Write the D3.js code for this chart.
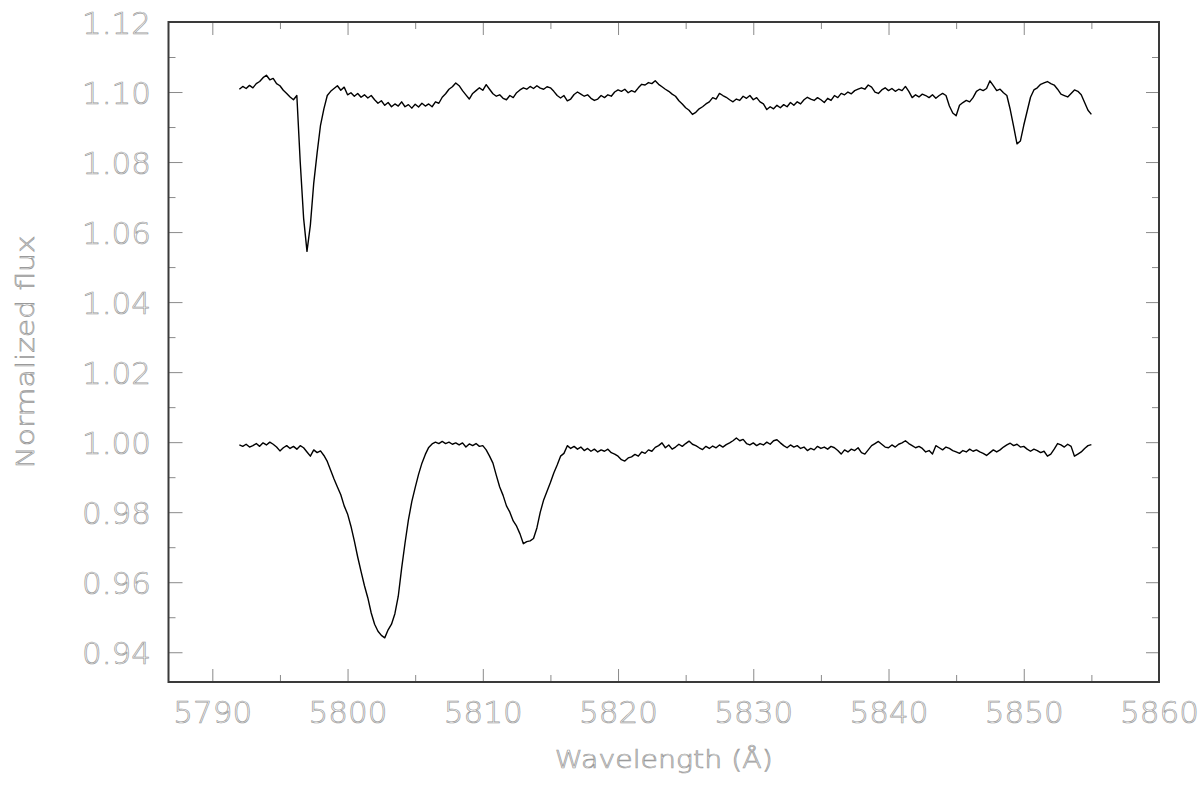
<!DOCTYPE html>
<html>
<head>
<meta charset="utf-8">
<script src="https://cdn.jsdelivr.net/npm/d3@7"></script>
<style>
  html, body { margin: 0; padding: 0; background: #fff; }
  svg { display: block; }
</style>
</head>
<body>
<svg id="chart" width="1200" height="785"></svg>
<script>
// ---------------- DATA ----------------
const waveStart = 5792;
const waveEnd = 5855;
const xMajorTicks = [5790, 5800, 5810, 5820, 5830, 5840, 5850, 5860];
const xMinorTicks = [5795, 5805, 5815, 5825, 5835, 5845, 5855];
const yMajorTicks = [0.94, 0.96, 0.98, 1.00, 1.02, 1.04, 1.06, 1.08, 1.10, 1.12];
const yMinorTicks = [0.95, 0.97, 0.99, 1.01, 1.03, 1.05, 1.07, 1.09, 1.11];
const xTickLabels = ["5790", "5800", "5810", "5820", "5830", "5840", "5850", "5860"];
const yTickLabels = ["0.94", "0.96", "0.98", "1.00", "1.02", "1.04", "1.06", "1.08", "1.10", "1.12"];
const xTitle = "Wavelength (Å)";
const yTitle = "Normalized flux";

// upper spectrum (sampled every 0.25 Å from 5792 to 5855), one row per Å
const fluxUpper = [
  1.1008, 1.1016, 1.1010, 1.1019,
  1.1012, 1.1024, 1.1030, 1.1041,
  1.1048, 1.1035, 1.1039, 1.1024,
  1.1018, 1.1005, 1.0996, 1.0986,
  1.0978, 1.0990, 1.0800, 1.0640,
  1.0545, 1.0620, 1.0740, 1.0826,
  1.0905, 1.0952, 1.0990, 1.1002,
  1.1010, 1.1018, 1.1005, 1.1014,
  1.0992, 1.0998, 1.0988, 1.0996,
  1.0985, 1.0992, 1.0983, 1.0990,
  1.0978, 1.0968, 1.0975, 1.0962,
  1.0970, 1.0958, 1.0966, 1.0960,
  1.0972, 1.0958, 1.0964, 1.0954,
  1.0965, 1.0957, 1.0968, 1.0960,
  1.0966, 1.0958, 1.0972, 1.0968,
  1.0985, 1.0995, 1.1008, 1.1015,
  1.1026, 1.1018, 1.1004, 1.0992,
  1.0980, 1.0996, 1.1004, 1.1012,
  1.1005, 1.1021, 1.1008, 1.0995,
  1.0988, 1.0992, 1.0982, 1.0978,
  1.0990, 1.0984, 1.0998, 1.1006,
  1.1012, 1.1008, 1.1016, 1.1010,
  1.1018, 1.1011, 1.1008, 1.1015,
  1.1012, 1.1002, 1.0990, 1.0983,
  1.0990, 1.0975, 1.0980, 1.0993,
  1.1000, 1.0994, 1.0988, 1.0992,
  1.0982, 1.0976, 1.0980, 1.0990,
  1.0984, 1.0992, 1.0988, 1.1000,
  1.1006, 1.1002, 1.1008, 1.0998,
  1.1004, 1.1000, 1.1012, 1.1022,
  1.1020, 1.1027, 1.1024, 1.1032,
  1.1022, 1.1015, 1.1008, 1.1002,
  1.0994, 1.0988, 1.0975, 1.0966,
  1.0955, 1.0948, 1.0936, 1.0942,
  1.0952, 1.0958, 1.0966, 1.0972,
  1.0984, 1.0980, 1.0996, 1.0990,
  1.0985, 1.0978, 1.0972, 1.0980,
  1.0976, 1.0988, 1.0982, 1.0990,
  1.0978, 1.0984, 1.0972, 1.0966,
  1.0950, 1.0958, 1.0952, 1.0962,
  1.0955, 1.0964, 1.0958, 1.0970,
  1.0962, 1.0972, 1.0966, 1.0978,
  1.0985, 1.0980, 1.0976, 1.0984,
  1.0978, 1.0970, 1.0982, 1.0976,
  1.0990, 1.0984, 1.0996, 1.0992,
  1.1000, 1.0995, 1.1004, 1.1008,
  1.1012, 1.1008, 1.1020, 1.1014,
  1.1000, 1.0996, 1.1006, 1.1012,
  1.1004, 1.1010, 1.1002, 1.1008,
  1.1004, 1.1016, 1.1002, 1.0984,
  1.0992, 1.0986, 1.0994, 1.0990,
  1.0984, 1.0992, 1.0982, 1.0990,
  1.0996, 1.0990, 1.0960, 1.0940,
  1.0932, 1.0962, 1.0970, 1.0976,
  1.0972, 1.0984, 1.1002, 1.1008,
  1.1004, 1.1010, 1.1032, 1.1018,
  1.1004, 1.1008, 1.0998, 1.0990,
  1.0950, 1.0902, 1.0852, 1.0860,
  1.0905, 1.0945, 1.0985, 1.1006,
  1.1012, 1.1022, 1.1026, 1.1030,
  1.1024, 1.1020, 1.1008, 1.0994,
  1.0990, 1.0986, 1.0996, 1.1006,
  1.1002, 1.0992, 1.0970, 1.0948,
  1.0936
];

// lower spectrum (sampled every 0.25 Å from 5792 to 5855), one row per Å
const fluxLower = [
  0.9992, 0.9988, 0.9994, 0.9986,
  0.9990, 0.9996, 0.9988, 0.9998,
  0.9992, 1.0000, 0.9994, 0.9986,
  0.9975, 0.9984, 0.9990, 0.9982,
  0.9988, 0.9980, 0.9990, 0.9984,
  0.9972, 0.9960, 0.9978, 0.9970,
  0.9975, 0.9962, 0.9945, 0.9920,
  0.9895, 0.9872, 0.9850, 0.9818,
  0.9795, 0.9760, 0.9718, 0.9672,
  0.9630, 0.9590, 0.9555, 0.9512,
  0.9480, 0.9460, 0.9448, 0.9441,
  0.9464, 0.9480, 0.9510, 0.9560,
  0.9640, 0.9712, 0.9778, 0.9830,
  0.9870, 0.9908, 0.9940, 0.9965,
  0.9985, 0.9995, 1.0000, 0.9996,
  1.0002, 0.9996, 1.0000, 0.9994,
  0.9998, 0.9992, 0.9998, 0.9986,
  0.9995, 0.9990, 0.9996, 0.9988,
  0.9990, 0.9978, 0.9960, 0.9940,
  0.9905, 0.9872, 0.9848, 0.9818,
  0.9800, 0.9775, 0.9760, 0.9738,
  0.9710, 0.9716, 0.9718, 0.9725,
  0.9755, 0.9800, 0.9835, 0.9860,
  0.9885, 0.9912, 0.9935, 0.9960,
  0.9968, 0.9990, 0.9982, 0.9988,
  0.9980, 0.9986, 0.9976, 0.9982,
  0.9974, 0.9980, 0.9972, 0.9978,
  0.9974, 0.9980, 0.9970, 0.9966,
  0.9960, 0.9950, 0.9946, 0.9955,
  0.9958, 0.9965, 0.9960, 0.9972,
  0.9968, 0.9978, 0.9974, 0.9985,
  0.9990, 0.9998, 0.9984, 0.9992,
  0.9980, 0.9986, 0.9994, 0.9988,
  0.9996, 1.0003, 0.9994, 0.9990,
  0.9984, 0.9979, 0.9988, 0.9982,
  0.9989, 0.9984, 0.9992, 0.9986,
  0.9993, 0.9998, 1.0004, 1.0012,
  1.0004, 1.0008, 0.9996, 0.9992,
  0.9998, 0.9990, 0.9996, 0.9992,
  1.0000, 0.9994, 1.0004, 1.0007,
  0.9998, 0.9990, 0.9984, 0.9992,
  0.9986, 0.9990, 0.9982, 0.9986,
  0.9976, 0.9982, 0.9978, 0.9988,
  0.9982, 0.9986, 0.9980, 0.9988,
  0.9984, 0.9976, 0.9966, 0.9978,
  0.9972, 0.9980, 0.9976, 0.9984,
  0.9970, 0.9966, 0.9978, 0.9990,
  0.9996, 1.0002, 0.9994, 0.9986,
  0.9984, 0.9992, 0.9986, 0.9994,
  0.9998, 1.0004, 0.9996, 0.9990,
  0.9984, 0.9988, 0.9982, 0.9972,
  0.9976, 0.9966, 0.9990, 0.9984,
  0.9978, 0.9986, 0.9982, 0.9976,
  0.9972, 0.9968, 0.9976, 0.9972,
  0.9980, 0.9974, 0.9978, 0.9972,
  0.9968, 0.9962, 0.9970, 0.9978,
  0.9972, 0.9978, 0.9986, 0.9992,
  0.9997, 0.9990, 0.9994, 0.9986,
  0.9988, 0.9980, 0.9974, 0.9980,
  0.9976, 0.9970, 0.9974, 0.9960,
  0.9966, 0.9980, 0.9996, 0.9992,
  0.9986, 0.9994, 0.9988, 0.9960,
  0.9966, 0.9972, 0.9982, 0.9990,
  0.9993
];

// ---------------- CHART ----------------
(function () {
const svg = d3.select("#chart");
const pL = 168.5, pR = 1159, pT = 22, pB = 682;

const x = d3.scaleLinear().domain([5786.76, 5860]).range([pL, pR]);
const y = d3.scaleLinear().domain([0.9315, 1.12]).range([pB, pT]);

const tickColor = "#8a8a8a";
const labelStroke = "#9a9a9a";
const fontFam = "DejaVu Sans";
const fontW = 200;

function styleAxis(g) {
  g.select(".domain").remove();
  g.selectAll(".tick line").attr("stroke", tickColor).attr("stroke-width", 1);
}
function styleLabel(sel) {
  sel.attr("font-family", fontFam).attr("font-weight", fontW)
    .attr("fill", "#fff").attr("stroke", labelStroke).attr("stroke-width", 0.7);
}

// ticks on all four sides (inward)
svg.append("g").attr("transform", `translate(0,${pB})`)
  .call(d3.axisBottom(x).tickValues(xMinorTicks).tickSize(-7).tickFormat(""))
  .call(styleAxis);
svg.append("g").attr("transform", `translate(0,${pT})`)
  .call(d3.axisTop(x).tickValues(xMinorTicks).tickSize(-7).tickFormat(""))
  .call(styleAxis);
svg.append("g").attr("transform", `translate(0,${pT})`)
  .call(d3.axisTop(x).tickValues(xMajorTicks).tickSize(-13).tickFormat(""))
  .call(styleAxis);
svg.append("g").attr("transform", `translate(${pL},0)`)
  .call(d3.axisLeft(y).tickValues(yMinorTicks).tickSize(-7).tickFormat(""))
  .call(styleAxis);
svg.append("g").attr("transform", `translate(${pR},0)`)
  .call(d3.axisRight(y).tickValues(yMinorTicks).tickSize(-7).tickFormat(""))
  .call(styleAxis);
svg.append("g").attr("transform", `translate(${pR},0)`)
  .call(d3.axisRight(y).tickValues(yMajorTicks).tickSize(-13).tickFormat(""))
  .call(styleAxis);

// labelled axes
const xAxisG = svg.append("g").attr("transform", `translate(0,${pB})`)
  .call(d3.axisBottom(x).tickValues(xMajorTicks).tickSize(-13)
        .tickFormat((d, i) => xTickLabels[i]))
  .call(styleAxis);
xAxisG.selectAll(".tick text")
  .attr("y", 41).attr("dy", null).attr("font-size", 31)
  .call(styleLabel);

const yAxisG = svg.append("g").attr("transform", `translate(${pL},0)`)
  .call(d3.axisLeft(y).tickValues(yMajorTicks).tickSize(-14).tickPadding(17.5)
        .tickFormat((d, i) => yTickLabels[i]))
  .call(styleAxis);
yAxisG.selectAll(".tick text")
  .attr("dy", "0.36em").attr("font-size", 31)
  .call(styleLabel);

// frame
svg.append("rect")
  .attr("x", pL).attr("y", pT)
  .attr("width", pR - pL).attr("height", pB - pT)
  .attr("fill", "none").attr("stroke", "#3a3a3a").attr("stroke-width", 2);

// spectra
const nU = fluxUpper.length, nL = fluxLower.length;
const upperData = fluxUpper.map((v, i) => [waveStart + i * (waveEnd - waveStart) / (nU - 1), v]);
const lowerData = fluxLower.map((v, i) => [waveStart + i * (waveEnd - waveStart) / (nL - 1), v]);

const line = d3.line().x(d => x(d[0])).y(d => y(d[1]));
[upperData, lowerData].forEach(data => {
  svg.append("path").datum(data)
    .attr("d", line)
    .attr("fill", "none").attr("stroke", "#000")
    .attr("stroke-width", 1.4).attr("stroke-linejoin", "round");
});

// axis titles
svg.append("text")
  .attr("x", (pL + pR) / 2).attr("y", 768)
  .attr("text-anchor", "middle").attr("font-size", 24)
  .attr("textLength", 218).attr("lengthAdjust", "spacingAndGlyphs")
  .call(styleLabel)
  .text(xTitle);

svg.append("text")
  .attr("transform", `translate(34,${(pT + pB) / 2}) rotate(-90)`)
  .attr("text-anchor", "middle").attr("font-size", 24)
  .attr("textLength", 233).attr("lengthAdjust", "spacingAndGlyphs")
  .call(styleLabel)
  .text(yTitle);
})();
</script>
</body>
</html>
